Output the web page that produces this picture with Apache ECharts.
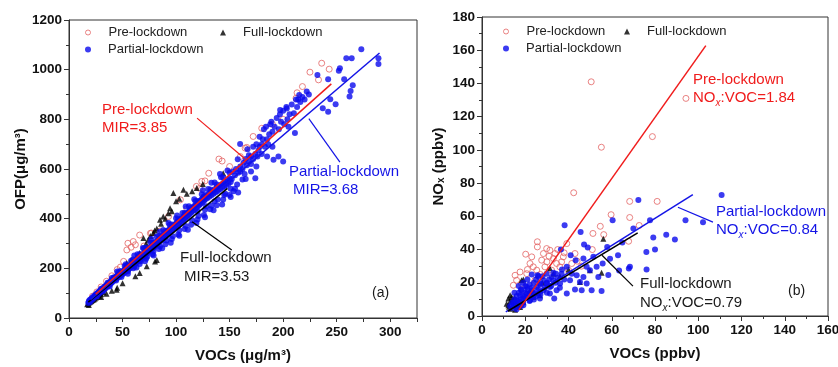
<!DOCTYPE html>
<html>
<head>
<meta charset="utf-8">
<script src="https://cdn.jsdelivr.net/npm/echarts@6.0.0/dist/echarts.min.js"></script>
<style>
  html, body { margin: 0; padding: 0; background: #fff; }
  #chart { width: 838px; height: 367px; }
</style>
</head>
<body>
<div id="chart"></div>
<script>
// ---- panel (a): OFP vs VOCs ----
const preA = [[236,1026],[225,990],[243,1002],[233,959],[218,932],[213,907],[212,885],[180,764],[172,731],[166,687],
  [164.5,684],[140,640],[143,632],[130.5,583],[127,552],[124,550],[122,522],[119,530],[104,476],[93,409],[77,342],
  [60,308],[62,295],[58,285],[54,274],[55,301],[66,334],[76,341],[51,228],[45,195],[40,170],[35,148],[30,125],
  [26,105],[22,88],[190,780],[200,800],[150,610],[110,440],[85,350],[70,290],[48,205],[160,650],[32,113],[82,340]];

const fullA = [[17,55],[18,58],[19,62],[18.5,52],[20,65],[21,68],[22,72],[23,74],[24,78],[25,82],[26,85],[28,90],
  [30,96],[27,92],[29,100],[32,104],[54,221],[58,235],[63,248],[66,262],[69.5,322],[72,300],[74,315],[76,330],
  [78.8,342],[80,352],[82,360],[85,396],[86,380],[88,409],[90,400],[92.8,422],[94.4,442],[96,430],[97.5,503],
  [100,470],[103,480],[106.9,516],[110,500],[115,510],[119.3,523],[125,540],[144,583],[62,168],[66,181],[72.6,208],
  [80.4,228],[82,234],[50,140],[45,122],[40,110],[35,98],[30,85],[44.5,114]];

const partialA = [
  [18,60],[18.5,66],[19,71],[19.5,63],[20,75],[20.5,69],[21,79],[21.5,73],[22,84],[22.5,78],[23,81],[23.5,89],
  [24,86],[24.5,92],[25,95],[25.5,88],[26,99],[26.5,93],[27,102],[27.5,96],[28,107],[28.5,101],[29,110],[29.5,104],
  [30,114],[30.5,107],[31,118],[31.5,111],[32,121],[32.5,115],[33,125],[33.5,118],[34,129],[34.5,122],[35,133],
  [35.5,126],[36,137],[36.5,129],[37,141],[37.5,134],[38,144],[38.5,137],[39,148],[39.5,141],[40,152],[40.5,145],
  [41,157],[42,151],[42.5,162],[43,156],[44,166],[44.5,158],[45,170],[46,164],[46.5,174],[47,167],[48,179],
  [48.5,171],[49,183],[50,176],[50.5,188],[51,180],[52,194],[52.5,185],[53,198],[54,191],[54.5,203],[55,194],
  [56,208],[56.5,199],[57,212],[58,205],[58.5,217],[59,209],[60,222],[60.5,214],[61,228],[62,219],[62.5,232],
  [63,224],[64,238],[64.5,229],[65,243],[66,234],[66.5,248],[67,240],[68,253],[68.5,244],[69,258],[70,249],
  [70.5,264],[71,255],[72,268],[72.5,259],[73,273],[74,264],[74.5,279],[75,270],[76,284],[76.5,275],[77,290],
  [78,280],[78.5,294],[79,285],[80,300],[80.5,290],[81,306],[82,296],[82.5,311],[83,301],[84,316],[84.5,307],
  [85,322],[86,312],[86.5,327],[87,318],[88,333],[88.5,322],[89,338],[90,328],[90.5,343],[91,333],[92,349],
  [92.5,339],[93,354],[94,344],[94.5,360],[95,350],[96,365],[96.5,354],[97,370],[98,360],[98.5,376],[99,365],
  [100,381],[100.5,370],[101,387],[102,376],[102.5,391],[103,381],[104,397],[104.5,386],[105,402],[106,392],
  [106.5,408],[107,397],[108,413],[108.5,402],[109,418],[110,408],[110.5,424],[111,413],[112,429],[112.5,418],
  [113,435],[114,424],[114.5,440],[115,429],[116,446],[116.5,434],[117,451],[118,440],[118.5,456],[119,445],
  [120,462],[120.5,450],[121,467],[122,456],[122.5,472],[123,461],[124,478],[124.5,466],[125,483],[126,472],
  [126.5,488],[127,477],[128,494],[129,482],[130,499],[131,488],[132,506],[133,494],[134,512],[135,500],
  [136,518],[137,506],[138,524],[139,511],[140,531],[141,518],[142,537],[143,524],[144,543],[145,530],
  [146,549],[147,536],[148,556],[149,542],[150,562],[151,548],
  [26,87],[32,109],[38,127],[44,151],[49,165],[55,188],[61,206],[67,229],[73,247],[79,270],[85,288],[91,312],
  [97,329],[103,353],[109,370],[115,394],[121,411],[127,436],[133,452],[139,477],[145,495],[151,520],[157,538],
  [162,558],
  [30,118],[36,142],[42,164],[48,189],[54,210],[60,236],[66,257],[72,283],[78,303],[84,330],[90,350],[96,377],
  [102,398],[108,423],[114,444],[120,471],[126,490],[132,517],[138,538],[144,566],[150,585],
  [40,161],[46,183],[52,209],[58,231],[64,257],[70,280],[76,305],[82,328],[88,354],[94,376],[100,402],[106,423],
  [112,450],[118,471],[124,498],[130,519],[136,546],[142,567],[148,594],
  [60,200],[66,217],[72,239],[78,257],[84,278],[90,297],[96,318],[102,336],[108,358],[114,376],[120,397],
  [126,415],[132,438],[138,454],[144,477],[150,495],
  [45,187],[53,216],[61,252],[69,282],[77,318],[85,347],[93,383],[101,413],[109,449],[117,478],[125,514],
  [133,545],[141,580],
  [55,178],[63,203],[71,229],[79,252],[87,281],[95,303],[103,331],[111,355],[119,383],[127,406],[135,434],
  [143,457],[151,487],
  [120,430],[128,450],[136,470],[146,500],[155,520],[165,560],[170,590],[185,650],[190,690],[175,610],
  [152,560],[153,590],[155,575],[156,600],[158,585],[158,505],[153.6,510],[160,610],[160,590],[162,600],
  [163,625],[164,580],[165,640],[166,615],[168,630],[168,655],[170,620],[170,650],[172,640],[172,690],
  [174,660],[174,563],[175,700],[176,650],[177,675],[178,730],[178,690],[180,700],[180,660],[181,720],
  [182,760],[183,690],[184,770],[185,720],[186,700],[187,740],[188,780],[189,790],[190,750],[191,637],
  [192,770],[194,805],[195.6,650],[196,760],[197,820],[198,790],[200,630],[200,835],[201,780],[203,850],
  [204,800],[205,770],[206,820],[208,860],[210,825],[211,745],[212,880],[213,850],[214,880],[215,898],
  [216,870],[218,890],[220,880],[222,912],[224,900],[232,979],[237,845],[242,831],[242,961],[244,881],
  [249,861],[252,996],[253,1006],[257,961],[259,1046],[262,892],[263,914],[264,1046],[265,937],[273,1082],
  [289,1046],[289,1023],[159.8,701],[166.7,680],[157.6,639],[197.2,838],[203.4,844]];

// regression lines, endpoints in data units
const fitPreA = [[25,96],[245,943]];
const fitFullA = [[18,64],[148,522]];
const fitPartialA = [[20,74],[290,1067]];

// ---- panel (b): NOx vs VOCs ----
const preB = [[50.5,141],[55.2,101.6],[78.8,108],[94.3,131],[42.4,74.2],[68.3,69],[81,69],[68.3,59.3],[59.7,61],
  [54.7,54],[72.7,54.5],[51.3,49.7],[56.3,49],[67.8,45],[51,40],[25.6,44.7],[25.6,41.6],[20.2,37.2],[23,35.6],
  [29.9,40.6],[31.4,39.6],[39.2,43.6],[43,37.6],[33,34.6],[34.5,31.6],[27.6,33.6],[29.1,29.6],[23.7,29.6],
  [22.2,31.6],[17.6,26.5],[20.7,25.5],[16,21.5],[18.3,19.5],[36,29.6],[37.6,35.6],[32.2,27.6],[25.3,27.6],
  [26.8,23.5],[24.5,21.5],[19.1,15.5],[15.3,24.5],[14.5,18.5],[41.5,31.6],[40,27.6],[30,32.6],[36.8,32.6],
  [28.4,37.6],[33.8,37.6],[21,28],[27,25],[31,36],[35,40],[38,38],[44,33],[46,30]];

const fullB = [[12.2,10.5],[12.9,8.4],[14.2,6.4],[13.3,4.4],[15.3,3.8],[16.8,5.8],[11.4,7.4],[13.7,11.5],[17.6,5.4],
  [19.1,8.4],[16,8.4],[12.2,6.4],[14,9],[13,12.5],[15,11],[12.5,5.5],[18.3,21.5],[19.1,22],[26,13.5],[23.7,11.5],
  [26.8,12.5],[31.4,28.8],[33,25.5],[45.3,20.5],[49.9,27.6],[55.3,26],[56.1,46.5],[36,24],[28,20],[22,15],[40,28]];

const partialB = [[110.8,72.8],[72.3,69.8],[94.1,57.7],[102.2,56.5],[85.2,48.9],[79.2,47.3],[89.2,46],[80,40],
  [76,38.6],[76.1,28],[68.4,29.6],[67.9,28.6],[77.7,57.7],[60.4,57.7],[70,52.7],[64.9,44.3],[57.9,41.6],
  [62.9,36.6],[59.2,34.4],[55.8,31.6],[58.4,24.7],[63.4,27.4],[38.2,54.7],[45.6,50.5],[47.2,43],[48.9,41.2],
  [41,36.6],[36.5,40],[43.3,33.6],[46.9,34.6],[51.5,35.6],[53,29.6],[49.9,27.6],[53.8,23.5],[55.3,15.1],
  [50.7,15.5],[46.1,15.5],[43,15.9],[39.2,13.5],[33.4,10.5],[40.7,21.5],[45.3,20.5],[48.4,19.5],[36.1,19.5],
  [34.2,25.5],[29.9,25.5],[25.7,24.5],[31.4,17.5],[28.4,15.5],[25.3,17.5],[23,15.5],[20.7,13.5],[17.6,12.5],
  [16,9.5],[19.1,10.5],[22.2,9.5],[23.7,11.5],[26.8,10.5],[14.5,7.4],[17.6,8.4],[16,5.4],[19.1,6.4],[28.4,21.5],
  [32.2,23.5],[36.8,25.5],[39.2,29.6],[41.5,25.5],[43.8,24.5],[46.9,23.5],[48.4,29.6],[32.9,21.5],[29.9,19.5],
  [26.8,19.5],[20.7,17.5],[18.3,15.5],[23.7,13.5],[26.8,14.5],[31.4,13.5],[34.5,15.5],
  [13,6],[14,8],[15,6],[15,10],[16,7],[16,12],[17,9],[17,14],[18,10],[18,16],[19,12],[19,8],[20,14],[20,18],
  [21,11],[21,16],[22,13],[22,19],[23,17],[24,14],[24,20],[25,12],[25,22],[26,16],[27,19],[27,13],[28,24],
  [29,17],[30,20],[30,14],[31,22],[32,18],[33,26],[34,20],[35,23],[36,17],[37,28],[38,22],[15,14],[17,18],
  [19,20],[21,22],[23,25],[26,24],[20,11],[22,9],[24,10],[18,6],[16,4],[14,5]];

const fitPreB = [[17,3.7],[103.5,162.8]];
const fitPartialB = [[11,2.5],[97.5,73]];
const fitFullB = [[12,3],[72,50]];

const font = 'Arial, "Liberation Sans", sans-serif';
const RED = '#f01c1c', BLUE = '#1414e6', PINK = '#e46464', DOT = '#0a0aee';

const chart = echarts.init(document.getElementById('chart'), null, { renderer: 'canvas' });

function axis(gridIndex, min, max, interval, name, nameGap, extra) {
  return Object.assign({
    type: 'value', gridIndex, min, max, interval,
    name, nameLocation: 'middle', nameGap,
    nameTextStyle: { color: '#111', fontSize: 15, fontWeight: 'bold', fontFamily: font,
      rich: { s: { fontSize: 10, fontWeight: 'bold', fontFamily: font, verticalAlign: 'bottom', lineHeight: 12 } } },
    axisLine: { show: true, onZero: false, lineStyle: { color: '#333', width: 1 } },
    axisTick: { show: true, inside: false, length: 5, lineStyle: { color: '#333' } },
    minorTick: { show: true, splitNumber: 2, length: 3, lineStyle: { color: '#333' } },
    splitLine: { show: false },
    minorSplitLine: { show: false },
    axisLabel: { color: '#111', fontSize: 13.5, fontWeight: 'bold', fontFamily: font, margin: 7,
      formatter: v => String(v) }
  }, extra || {});
}

function scatter(name, data, idx, style) {
  return Object.assign({ name, type: 'scatter', data, xAxisIndex: idx, yAxisIndex: idx,
    symbolSize: 6, silent: true }, style);
}
const preStyle = { symbol: 'circle', symbolSize: 6,
  itemStyle: { color: 'rgba(255,255,255,0)', borderColor: PINK, borderWidth: 1 } };
const fullStyle = { symbol: 'triangle', symbolSize: 6, itemStyle: { color: '#000' } };
const partStyle = { symbol: 'circle', symbolSize: 6, itemStyle: { color: DOT } };

function fit(data, idx, color, arrow) {
  const s = { type: 'line', data, xAxisIndex: idx, yAxisIndex: idx, symbol: 'none', silent: true,
    lineStyle: { color, width: 1.5 } };
  if (arrow) {
    s.markLine = { silent: true, symbol: ['none', 'arrow'], symbolSize: [0, 9], label: { show: false },
      lineStyle: { color, width: 1.2, type: 'solid' },
      data: [[{ coord: arrow[0] }, { coord: arrow[1] }]] };
  }
  return s;
}

function legendItem(name, left, top) {
  const lg = { data: [name], left, top, itemWidth: 6, itemHeight: 6, selectedMode: false,
    padding: 0, textStyle: { color: '#222', fontSize: 13, fontFamily: font, padding: [0, 0, 0, 12] } };
  if (name === 'Pre-lockdown') {
    lg.itemWidth = 5; lg.itemHeight = 5;
    lg.itemStyle = { color: 'rgba(255,255,255,0)', borderColor: PINK, borderWidth: 1 };
    lg.textStyle.padding = [0, 0, 0, 13];
  }
  return lg;
}

function txt(x, y, text, color, size) {
  return { type: 'text', x, y, silent: true,
    style: { text, fill: color, font: (size || 15) + 'px ' + font, verticalAlign: 'middle',
      rich: {
        n: { fill: color, fontSize: 15, fontFamily: font, lineHeight: 20 },
        s: { fill: color, fontSize: 10, fontStyle: 'italic', fontFamily: font, verticalAlign: 'bottom', lineHeight: 11 }
      } } };
}

chart.setOption({
  animation: false,
  backgroundColor: '#fff',
  grid: [
    { left: 69, top: 20, width: 348, height: 298, show: true, borderColor: '#333', borderWidth: 1, outerBoundsMode: 'none' },
    { left: 482, top: 17, width: 346, height: 299, show: true, borderColor: '#333', borderWidth: 1, outerBoundsMode: 'none' }
  ],
  xAxis: [
    axis(0, 0, 325, 25, 'VOCs (μg/m³)', 30, {
      minorTick: { show: false },
      axisTick: { show: true, length: 4, lineStyle: { color: '#333' } },
      axisLabel: { color: '#111', fontSize: 13.5, fontWeight: 'bold', fontFamily: font, margin: 7,
        formatter: v => (v % 50 === 0 ? String(v) : '') }
    }),
    axis(1, 0, 160, 20, 'VOCs (ppbv)', 30)
  ],
  yAxis: [
    axis(0, 0, 1200, 200, 'OFP(μg/m³)', 41),
    axis(1, 0, 180, 20, 'NO{s|x} (ppbv)', 36)
  ],
  legend: [
    legendItem('Pre-lockdown', 85, 26),
    legendItem('Full-lockdown', 220, 26),
    legendItem('Partial-lockdown', 85, 43),
    legendItem('Pre-lockdown', 503, 25),
    legendItem('Full-lockdown', 624, 25),
    legendItem('Partial-lockdown', 503, 42)
  ],
  series: [
    scatter('Pre-lockdown', preA, 0, preStyle),
    scatter('Full-lockdown', fullA, 0, fullStyle),
    scatter('Partial-lockdown', partialA, 0, partStyle),
    fit(fitFullA, 0, '#000', [[152, 274], [115, 388]]),
    fit(fitPartialA, 0, BLUE, [[253, 628], [224, 803]]),
    fit(fitPreA, 0, RED, [[119.6, 805], [164.5, 640]]),
    scatter('Pre-lockdown', preB, 1, preStyle),
    scatter('Full-lockdown', fullB, 1, fullStyle),
    scatter('Partial-lockdown', partialB, 1, partStyle),
    fit(fitPartialB, 1, BLUE, [[106.8, 56.5], [90.6, 65.5]]),
    fit(fitFullB, 1, '#000', [[69.8, 18], [55.5, 36.6]]),
    fit(fitPreB, 1, RED, null)
  ],
  graphic: [
    txt(102, 110, 'Pre-lockdown', RED),
    txt(102, 128, 'MIR=3.85', RED),
    txt(289, 172, 'Partial-lockdown', BLUE),
    txt(293, 190, 'MIR=3.68', BLUE),
    txt(180, 258, 'Full-lockdown', '#1a1a1a'),
    txt(184, 277, 'MIR=3.53', '#1a1a1a'),
    txt(372, 293, '(a)', '#1a1a1a', 14),
    txt(693, 80, 'Pre-lockdown', RED),
    txt(693, 98, '{n|NO}{s|x}{n|:VOC=1.84}', RED),
    txt(716, 212, 'Partial-lockdown', BLUE),
    txt(716, 230, '{n|NO}{s|x}{n|:VOC=0.84}', BLUE),
    txt(640, 284, 'Full-lockdown', '#1a1a1a'),
    txt(640, 303, '{n|NO}{s|x}{n|:VOC=0.79}', '#1a1a1a'),
    txt(788, 291, '(b)', '#1a1a1a', 14)
  ]
});
</script>
</body>
</html>
